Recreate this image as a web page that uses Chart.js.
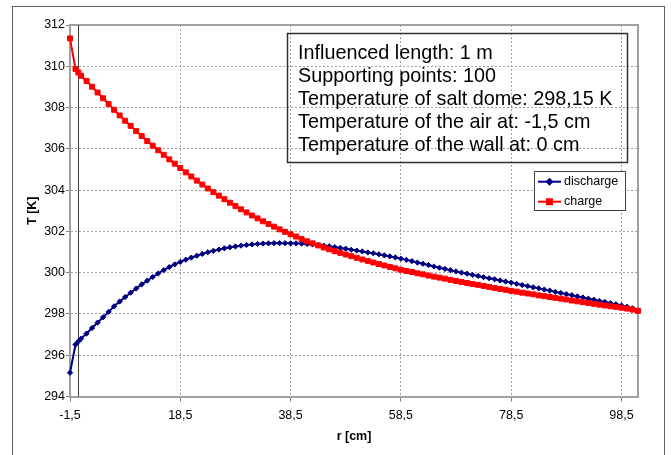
<!DOCTYPE html>
<html><head><meta charset="utf-8">
<script src="https://cdn.jsdelivr.net/npm/chart.js@4/dist/chart.umd.min.js"></script>
<style>html,body{margin:0;padding:0;background:#fff;overflow:hidden}#c{position:absolute;left:0;top:0}</style>
</head><body><canvas id="c" width="671" height="455"></canvas>
<script>
const radiusCm = [-1.5,-0.5,0,
 0.5,1.5,2.5,3.5,4.5,5.5,6.5,7.5,8.5,9.5,10.5,11.5,12.5,13.5,14.5,15.5,16.5,17.5,18.5,19.5,
 20.5,21.5,22.5,23.5,24.5,25.5,26.5,27.5,28.5,29.5,30.5,31.5,32.5,33.5,34.5,35.5,36.5,37.5,38.5,39.5,
 40.5,41.5,42.5,43.5,44.5,45.5,46.5,47.5,48.5,49.5,50.5,51.5,52.5,53.5,54.5,55.5,56.5,57.5,58.5,59.5,
 60.5,61.5,62.5,63.5,64.5,65.5,66.5,67.5,68.5,69.5,70.5,71.5,72.5,73.5,74.5,75.5,76.5,77.5,78.5,79.5,
 80.5,81.5,82.5,83.5,84.5,85.5,86.5,87.5,88.5,89.5,90.5,91.5,92.5,93.5,94.5,95.5,96.5,97.5,98.5,99.5,
 100.5,101.5];
const dischargeK = [295.15,296.52,296.66,
 296.80,297.05,297.32,297.58,297.84,298.10,298.37,298.60,298.82,299.03,299.23,299.43,299.61,299.79,299.96,300.12,300.27,300.40,300.52,300.63,
 300.73,300.82,300.91,300.99,301.06,301.12,301.18,301.23,301.27,301.31,301.34,301.37,301.39,301.41,301.42,301.43,301.43,301.43,301.42,301.42,
 301.41,301.39,301.37,301.34,301.31,301.28,301.24,301.20,301.16,301.11,301.07,301.03,300.98,300.94,300.89,300.84,300.79,300.74,300.68,300.62,
 300.56,300.49,300.43,300.37,300.30,300.24,300.18,300.12,300.06,300.00,299.95,299.89,299.84,299.78,299.73,299.68,299.62,299.57,299.52,299.46,
 299.40,299.35,299.29,299.24,299.18,299.13,299.07,299.02,298.96,298.91,298.85,298.80,298.74,298.69,298.63,298.58,298.52,298.47,298.41,298.35,
 298.27,298.15];
const chargeK = [311.35,309.87,309.70,
 309.54,309.29,309.01,308.73,308.45,308.17,307.89,307.62,307.36,307.11,306.86,306.62,306.38,306.15,305.93,305.71,305.49,305.28,305.07,304.86,
 304.66,304.46,304.27,304.08,303.90,303.73,303.56,303.39,303.23,303.07,302.92,302.77,302.63,302.49,302.36,302.23,302.10,301.98,301.86,301.75,
 301.63,301.52,301.42,301.32,301.22,301.13,301.04,300.96,300.88,300.80,300.72,300.64,300.57,300.49,300.42,300.35,300.28,300.21,300.14,300.08,
 300.03,299.97,299.92,299.86,299.81,299.76,299.71,299.65,299.60,299.55,299.50,299.45,299.41,299.36,299.31,299.26,299.21,299.17,299.12,299.08,
 299.03,298.99,298.95,298.90,298.86,298.82,298.78,298.74,298.70,298.65,298.61,298.57,298.53,298.49,298.45,298.41,298.37,298.34,298.30,298.26,
 298.21,298.15];
const seriesNames = ['discharge', 'charge'];
const xTickValues = [-1.5, 18.5, 38.5, 58.5, 78.5, 98.5];
const yTickValues = [294, 296, 298, 300, 302, 304, 306, 308, 310, 312];
const xTitle = 'r [cm]';
const yTitle = 'T [K]';
const infoLines = [
  'Influenced length: 1 m',
  'Supporting points: 100',
  'Temperature of salt dome: 298,15 K',
  'Temperature of the air at: -1,5 cm',
  'Temperature of the wall at: 0 cm'
];

const FAM = "'Liberation Sans', Arial, sans-serif";
Chart.defaults.font.family = FAM;
Chart.defaults.color = '#000';

const toPts = arr => radiusCm.map((x, i) => ({x: x, y: arr[i]}));

const decor = {
  id: 'decor',
  beforeDraw(chart) {
    const c = chart.ctx;
    c.save();
    c.fillStyle = '#fff';
    c.fillRect(0, 0, chart.width, chart.height);
    c.strokeStyle = '#606060';
    c.lineWidth = 1;
    c.strokeRect(12.5, 6.5, 652, 470);
    c.restore();
  },
  beforeDatasetsDraw(chart) {
    const c = chart.ctx, a = chart.chartArea, xs = chart.scales.x;
    c.save();
    c.strokeStyle = '#a0a0a0';
    c.lineWidth = 2;
    c.beginPath();
    c.moveTo(a.left, a.top); c.lineTo(a.right, a.top); c.lineTo(a.right, a.bottom);
    c.stroke();
    const x0 = Math.round(xs.getPixelForValue(0)) + 0.5;
    c.strokeStyle = '#404040';
    c.lineWidth = 1;
    c.beginPath(); c.moveTo(x0, a.top); c.lineTo(x0, a.bottom); c.stroke();
    c.restore();
  },
  afterDraw(chart) {
    const c = chart.ctx;
    c.save();
    // info box
    c.strokeStyle = '#303030';
    c.lineWidth = 1.5;
    c.strokeRect(287.5, 33.5, 340, 129);
    c.fillStyle = '#000';
    c.font = '19.8px ' + FAM;
    c.textBaseline = 'alphabetic';
    c.textAlign = 'left';
    infoLines.forEach((t, i) => c.fillText(t, 298, 58.5 + i * 23));
    // legend
    c.fillStyle = '#fff';
    c.fillRect(534.5, 171.5, 91, 39);
    c.strokeStyle = '#404040';
    c.lineWidth = 1;
    c.strokeRect(534.5, 171.5, 91, 39);
    chart.data.datasets.forEach((ds, i) => {
      const y = 181.7 + i * 20;
      c.strokeStyle = ds.borderColor;
      c.lineWidth = 2;
      c.beginPath(); c.moveTo(538, y); c.lineTo(561, y); c.stroke();
      Chart.helpers.drawPoint(c, {pointStyle: ds.pointStyle, radius: ds.pointRadius, borderWidth: 1}, 549.5, y);
      c.fillStyle = ds.backgroundColor;
      c.fill();
      c.fillStyle = '#000';
      c.font = '12.5px ' + FAM;
      c.textBaseline = 'middle';
      c.fillText(ds.label, 564, y);
    });
    c.restore();
  }
};

new Chart(document.getElementById('c'), {
  type: 'line',
  data: {
    datasets: [
      {label: seriesNames[0], data: toPts(dischargeK), borderColor: '#000080', backgroundColor: '#000080',
       borderWidth: 2, pointStyle: 'rectRot', pointRadius: 2.6, pointBorderWidth: 1, order: 1, clip: false, tension: 0},
      {label: seriesNames[1], data: toPts(chargeK), borderColor: '#ff0000', backgroundColor: '#ff0000',
       borderWidth: 2, pointStyle: 'rect', pointRadius: 3.5, pointBorderWidth: 1, order: 0, clip: false, tension: 0}
    ]
  },
  options: {
    responsive: false, animation: false, devicePixelRatio: 1,
    layout: {padding: {left: 0, right: 33, top: 25, bottom: 0}},
    plugins: {legend: {display: false}, tooltip: {enabled: false}},
    scales: {
      x: {
        type: 'linear', min: -1.5, max: 101.5,
        afterBuildTicks: s => { s.ticks = xTickValues.map(v => ({value: v})); },
        afterFit: s => { s.height = 58.5; },
        ticks: {font: {size: 12.5}, color: '#000', padding: 7, maxRotation: 0, autoSkip: false,
                callback: v => String(v).replace('.', ',')},
        grid: {color: ctx => (ctx.tick && ctx.tick.value === -1.5) ? 'rgba(0,0,0,0)' : '#a0a0a0',
               lineWidth: 1, tickColor: '#808080', tickLength: 5},
        border: {display: true, color: '#a0a0a0', width: 2, dash: [2, 2]},
        title: {display: true, text: xTitle, font: {size: 12.5, weight: 'bold'}, padding: {top: 0, bottom: 10.5}}
      },
      y: {
        type: 'linear', min: 294, max: 312,
        afterBuildTicks: s => { s.ticks = yTickValues.map(v => ({value: v})); },
        afterFit: s => { s.width = 70; },
        ticks: {font: {size: 12.5}, color: '#000', padding: 1},
        grid: {color: ctx => (ctx.tick && (ctx.tick.value === 294 || ctx.tick.value === 312)) ? 'rgba(0,0,0,0)' : '#a0a0a0',
               lineWidth: 1, tickColor: '#808080', tickLength: 4},
        border: {display: true, color: '#a0a0a0', width: 2, dash: [2, 2]},
        title: {display: true, text: yTitle, font: {size: 12.5, weight: 'bold'}, padding: {top: 25.5, bottom: 0}}
      }
    }
  },
  plugins: [decor]
});
</script>
</body></html>
